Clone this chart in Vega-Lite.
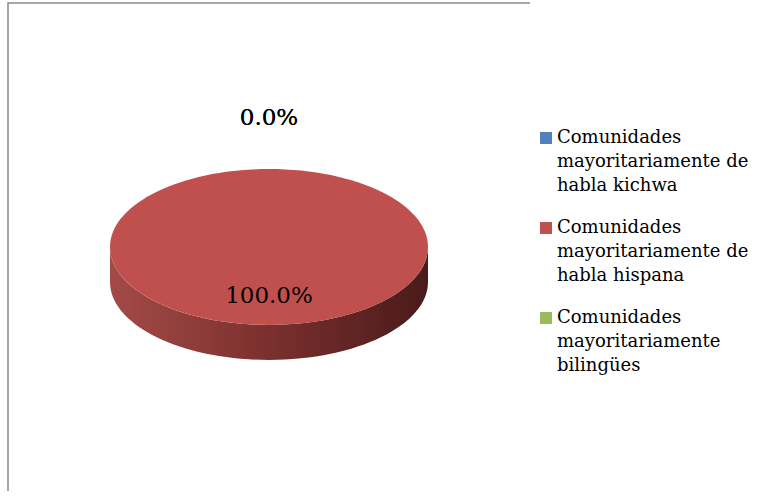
{
  "$schema": "https://vega.github.io/schema/vega-lite/v6.json",
  "width": 522,
  "height": 488,
  "autosize": {"type": "none"},
  "padding": {"left": 8, "top": 3, "right": 233, "bottom": 8},
  "background": "white",
  "view": {"stroke": "#8a8a8a", "strokeWidth": 1.5, "strokeDash": [522, 1010, 488], "fill": "white"},
  "data": {
    "values": [
      {"grupo": "Comunidades mayoritariamente de habla kichwa", "porcentaje": 0},
      {"grupo": "Comunidades mayoritariamente de habla hispana", "porcentaje": 1},
      {"grupo": "Comunidades mayoritariamente bilingües", "porcentaje": 0}
    ]
  },
  "layer": [
    {
      "transform": [{"filter": "datum.porcentaje > 0"}],
      "mark": {
        "type": "point",
        "shape": "M -1 0 L -1 0.22 A 1 0.49 0 0 0 1 0.22 L 1 0 A 1 0.49 0 0 1 -1 0 Z",
        "size": 101124,
        "filled": true,
        "opacity": 1,
        "strokeWidth": 0,
        "fill": {
          "gradient": "linear", "x1": 0, "y1": 0, "x2": 1, "y2": 0,
          "stops": [
            {"offset": 0, "color": "#a34a47"},
            {"offset": 0.5, "color": "#7a302e"},
            {"offset": 1, "color": "#4a1a1a"}
          ]
        }
      },
      "encoding": {}
    },
    {
      "transform": [{"filter": "datum.porcentaje > 0"}],
      "mark": {
        "type": "point",
        "shape": "M -1 0 A 1 0.49 0 1 1 1 0 A 1 0.49 0 1 1 -1 0 Z",
        "size": 101124,
        "filled": true,
        "opacity": 1,
        "strokeWidth": 0
      },
      "encoding": {
        "color": {
          "field": "grupo",
          "type": "nominal",
          "scale": {
            "domain": [
              "Comunidades mayoritariamente de habla kichwa",
              "Comunidades mayoritariamente de habla hispana",
              "Comunidades mayoritariamente bilingües"
            ],
            "range": ["#4f81bd", "#c0504d", "#9bbb59"]
          },
          "legend": {
            "title": null,
            "orient": "none",
            "legendX": 529,
            "legendY": 126,
            "padding": 0,
            "symbolType": "square",
            "symbolSize": 144,
            "symbolStrokeWidth": 0,
            "symbolOpacity": 1,
            "labelFont": "DejaVu Serif",
            "labelFontSize": 18,
            "labelColor": "black",
            "labelLimit": 400,
            "labelOffset": 2,
            "rowPadding": 24,
            "labelExpr": "split(replace(replace(replace(datum.label, 'Comunidades ', 'Comunidades|'), ' de ', ' de|'), 'mente bil', 'mente|bil'), '|')",
            "encode": {"labels": {"update": {"lineHeight": {"value": 24}}}}
          }
        }
      }
    },
    {
      "transform": [{"filter": "datum.porcentaje > 0"}],
      "mark": {"type": "text", "font": "DejaVu Serif", "fontSize": 23, "color": "black", "radius": 49},
      "encoding": {
        "theta": {"field": "porcentaje", "type": "quantitative", "stack": true, "scale": {"domain": [0, 1]}},
        "text": {"field": "porcentaje", "type": "quantitative", "format": ".1%"}
      }
    },
    {
      "transform": [{"filter": "datum.porcentaje == 0"}],
      "mark": {"type": "text", "font": "DejaVu Serif", "fontSize": 23, "color": "black", "radius": 129},
      "encoding": {
        "theta": {"field": "porcentaje", "type": "quantitative", "stack": true, "scale": {"domain": [0, 1]}},
        "text": {"field": "porcentaje", "type": "quantitative", "format": ".1%"}
      }
    }
  ]
}
